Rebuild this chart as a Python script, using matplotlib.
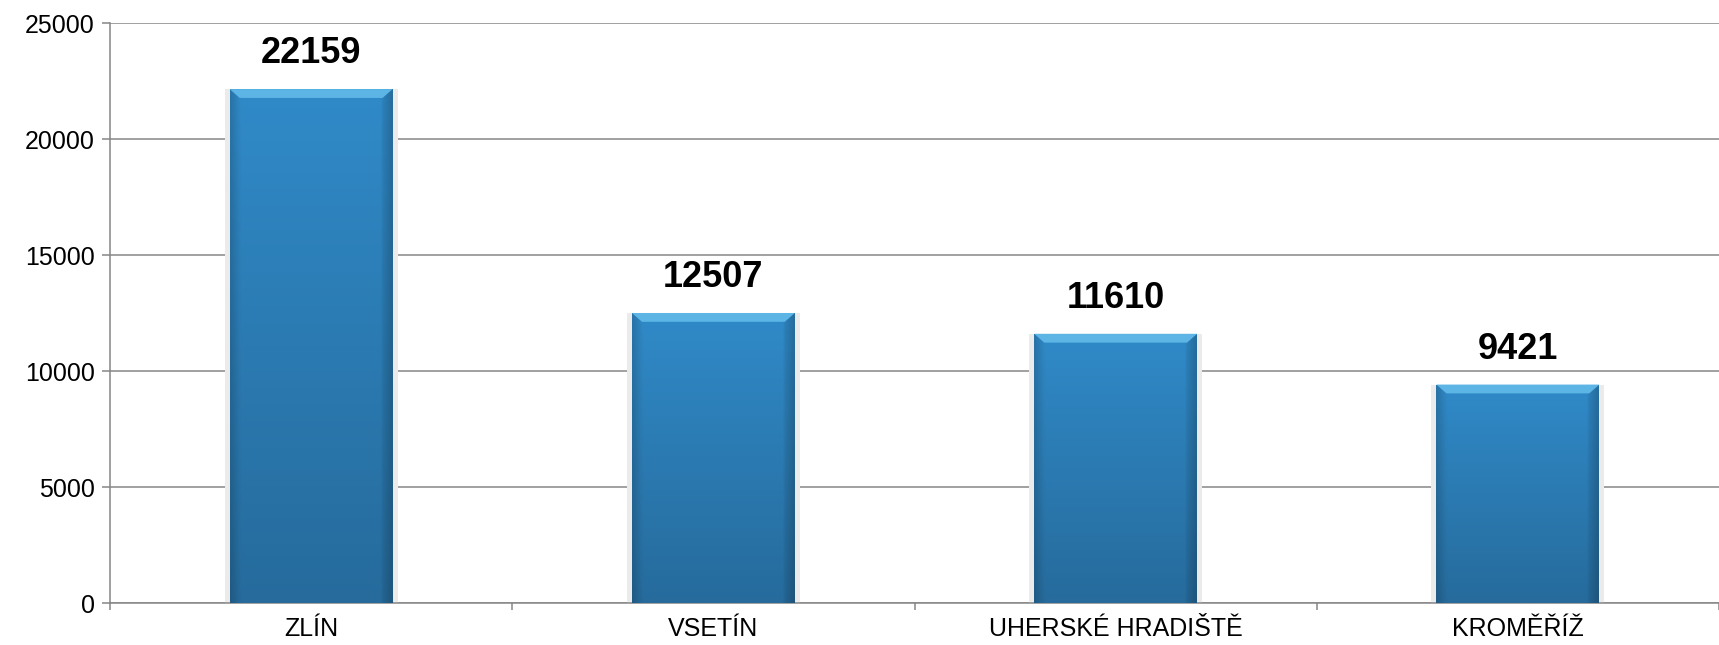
import numpy as np
import matplotlib.pyplot as plt

# data
districts = ['ZLÍN', 'VSETÍN', 'UHERSKÉ HRADIŠTĚ', 'KROMĚŘÍŽ']
counts = [22159, 12507, 11610, 9421]
y_ticks = [0, 5000, 10000, 15000, 20000, 25000]

plt.rcParams['font.family'] = ['Liberation Sans', 'DejaVu Sans']


def bar_gradient():
    """Build a small RGB image that imitates the bevelled Excel bar."""
    h, w = 200, 60
    top = np.array([0x30, 0x8a, 0xc8]) / 255
    bottom = np.array([0x26, 0x6b, 0x9c]) / 255
    t = np.linspace(0, 1, h)[:, None, None]
    img = top * (1 - t) + bottom * t
    img = np.repeat(img, w, axis=1)
    # darker sides
    x = np.linspace(-1, 1, w)
    side = 1 - 0.15 * np.clip((np.abs(x) - 0.88) / 0.12, 0, 1)
    side = side * (1 - 0.06 * (x > 0.88))
    img = img * side[None, :, None]
    return np.clip(img, 0, 1)


def main():
    fig = plt.figure(figsize=(17.19, 6.45), dpi=100)
    ax = fig.add_axes([0.064, 0.065, 0.936, 0.899])

    x = np.arange(len(districts))
    width = 0.405
    # light shadow behind the bars
    ax.bar(x, counts, width=width + 0.025, color='#ebebeb', zorder=2)
    bars = ax.bar(x, counts, width=width, color='#2c7bb4',
                  edgecolor='none', zorder=3)

    img = bar_gradient()
    for b in bars:
        x0, y0 = b.get_x(), b.get_y()
        w, h = b.get_width(), b.get_height()
        im = ax.imshow(img, extent=[x0, x0 + w, y0, y0 + h],
                       aspect='auto', zorder=4, interpolation='bilinear')
        im.set_clip_path(b)
        # light bevel on the top edge
        ax.fill([x0, x0 + w, x0 + w - 0.025, x0 + 0.025],
                [y0 + h, y0 + h, y0 + h - 380, y0 + h - 380],
                color='#5db5e6', zorder=5, lw=0)

    for xi, v in zip(x, counts):
        ax.annotate(str(v), (xi, v), xytext=(0, 13), textcoords='offset points',
                    ha='center', va='bottom', fontsize=26, fontweight='bold',
                    color='black')

    ax.set_xlim(-0.5, len(districts) - 0.5)
    ax.set_ylim(0, 25000)
    ax.set_yticks(y_ticks)
    ax.set_yticklabels([str(t) for t in y_ticks])
    ax.yaxis.grid(True, color='#868686', linewidth=1.1, zorder=0)
    ax.set_axisbelow(True)

    ax.set_xticks(x)
    ax.set_xticklabels(districts)
    ax.set_xticks(np.arange(len(districts) + 1) - 0.5, minor=True)
    ax.tick_params(axis='x', which='major', length=0, pad=10, labelsize=18)
    ax.tick_params(axis='x', which='minor', length=5, width=1.1,
                   color='#868686', direction='out')
    ax.tick_params(axis='y', length=6, width=1.1, color='#868686',
                   labelsize=18, pad=5)

    for side in ['top', 'right']:
        ax.spines[side].set_visible(False)
    for side in ['left', 'bottom']:
        ax.spines[side].set_color('#868686')
        ax.spines[side].set_linewidth(1.1)

    fig.savefig('out.png', dpi=100)


if __name__ == "__main__":
    main()
